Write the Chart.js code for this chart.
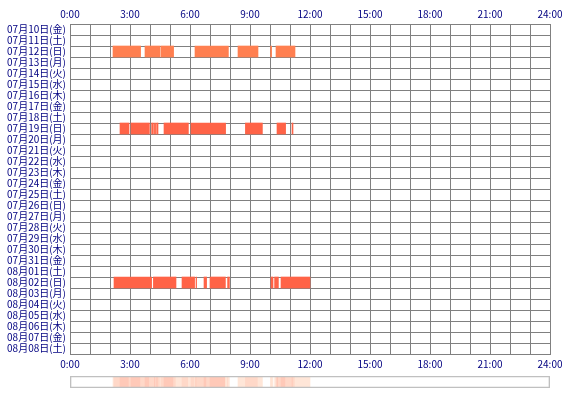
<!DOCTYPE html>
<html lang="ja">
<head>
<meta charset="UTF-8">
<title>睡眠記録</title>
<script src="https://cdn.jsdelivr.net/npm/chart.js@4.4.1/dist/chart.umd.min.js"></script>
<style>
    body { margin: 0; background: #fff; }
    #quadro { position: relative; width: 570px; height: 400px; }
    #grafico { position: absolute; left: 0; top: 0; }
    #faixa { position: absolute; left: 0; top: 370px; }
</style>
</head>
<body>
<div id="quadro">
    <canvas id="grafico" width="570" height="370"></canvas>
    <canvas id="faixa" width="570" height="30"></canvas>
</div>
<script>
// Dias (eixo vertical)
const dias = [
    "07月10日(金)", "07月11日(土)", "07月12日(日)", "07月13日(月)", "07月14日(火)",
    "07月15日(水)", "07月16日(木)", "07月17日(金)", "07月18日(土)", "07月19日(日)",
    "07月20日(月)", "07月21日(火)", "07月22日(水)", "07月23日(木)", "07月24日(金)",
    "07月25日(土)", "07月26日(日)", "07月27日(月)", "07月28日(火)", "07月29日(水)",
    "07月30日(木)", "07月31日(金)", "08月01日(土)", "08月02日(日)", "08月03日(月)",
    "08月04日(火)", "08月05日(水)", "08月06日(木)", "08月07日(金)", "08月08日(土)"
];

// Rótulos das horas (a cada 3h)
const horas = ["0:00", "3:00", "6:00", "9:00", "12:00", "15:00", "18:00", "21:00", "24:00"];

// Períodos registrados [início, fim] em horas
const periodos0712 = [[2.15, 3.53], [3.75, 4.5], [4.55, 5.18], [6.25, 7.92], [8.4, 9.4], [10.03, 10.08], [10.3, 11.25]];
const periodos0719 = [[2.5, 2.95], [3.05, 3.97], [4.08, 4.17], [4.22, 4.28], [4.33, 4.4], [4.7, 5.92], [6.05, 7.78], [8.77, 9.62], [10.35, 10.78], [11.1, 11.15]];
const periodos0802 = [[2.2, 4.08], [4.17, 5.3], [5.6, 6.23], [6.3, 6.33], [6.7, 6.83], [7.0, 7.77], [7.88, 7.97], [10.05, 10.15], [10.23, 10.42], [10.55, 12.0]];

const corTexto = "#000080";
const corGrade = "#808080";
const fonte = { family: "'Noto Sans CJK JP', sans-serif", size: 10 };

function montarDataset(dia, periodos, cor) {
    return {
        data: periodos.map(p => ({ x: p, y: dia })),
        backgroundColor: cor,
        borderWidth: 0
    };
}

function eixoHoras(posicao, altura, comGrade) {
    return {
        type: "linear",
        position: posicao,
        min: 0,
        max: 24,
        z: 1,
        grid: { display: comGrade, color: corGrade, drawTicks: false },
        border: { color: corGrade },
        ticks: {
            stepSize: 1,
            autoSkip: false,
            maxRotation: 0,
            padding: 4,
            color: corTexto,
            font: fonte,
            callback: v => (v % 3 === 0 ? horas[v / 3] : "")
        },
        afterFit: escala => { escala.height = altura; }
    };
}

new Chart(document.getElementById("grafico"), {
    type: "bar",
    data: {
        labels: dias,
        datasets: [
            montarDataset("07月12日(日)", periodos0712, "#FF7F50"),
            montarDataset("07月19日(日)", periodos0719, "#FF6347"),
            montarDataset("08月02日(日)", periodos0802, "#FF6347")
        ]
    },
    options: {
        responsive: false,
        animation: false,
        indexAxis: "y",
        layout: { padding: { left: 0, right: 20, top: 0, bottom: 0 } },
        datasets: { bar: { grouped: false, barPercentage: 1, categoryPercentage: 1 } },
        plugins: { legend: { display: false }, tooltip: { enabled: false } },
        scales: {
            x: eixoHoras("top", 24, true),
            x2: eixoHoras("bottom", 16, false),
            y: {
                type: "category",
                z: 1,
                offset: true,
                grid: { color: corGrade, offset: true, drawTicks: false },
                border: { color: corGrade },
                ticks: { autoSkip: false, padding: 4, color: corTexto, font: fonte },
                afterFit: escala => { escala.width = 70; }
            }
        }
    }
});

// Faixa de resumo: quantos dias têm registro em cada trecho do dia
const todos = [...periodos0712, ...periodos0719, ...periodos0802];
const pontos = [...new Set(todos.flat())].sort((a, b) => a - b);
const trechos = [];
for (let i = 0; i < pontos.length - 1; i++) {
    const meio = (pontos[i] + pontos[i + 1]) / 2;
    const n = todos.filter(p => p[0] <= meio && meio < p[1]).length;
    if (n > 0) trechos.push({ ini: pontos[i], fim: pontos[i + 1], n: n });
}
const coresFaixa = ["#FFFFFF", "#FFE6D8", "#FFD8C8", "#FFC9B8"];

new Chart(document.getElementById("faixa"), {
    type: "bar",
    data: {
        labels: ["resumo"],
        datasets: [
            {
                data: [{ x: [0, 24], y: "resumo" }],
                backgroundColor: "rgba(0,0,0,0)",
                borderColor: "#C0C0C0",
                borderWidth: 1,
                borderSkipped: false,
                order: 0
            },
            {
                data: trechos.map(t => ({ x: [t.ini, t.fim], y: "resumo" })),
                backgroundColor: trechos.map(t => coresFaixa[t.n]),
                borderWidth: 0,
                order: 1
            }
        ]
    },
    options: {
        responsive: false,
        animation: false,
        indexAxis: "y",
        layout: { padding: { left: 70, right: 20, top: 6, bottom: 12 } },
        datasets: { bar: { grouped: false, barPercentage: 1, categoryPercentage: 1 } },
        plugins: { legend: { display: false }, tooltip: { enabled: false } },
        scales: {
            x: { display: false, min: 0, max: 24 },
            y: { display: false }
        }
    }
});
</script>
</body>
</html>
